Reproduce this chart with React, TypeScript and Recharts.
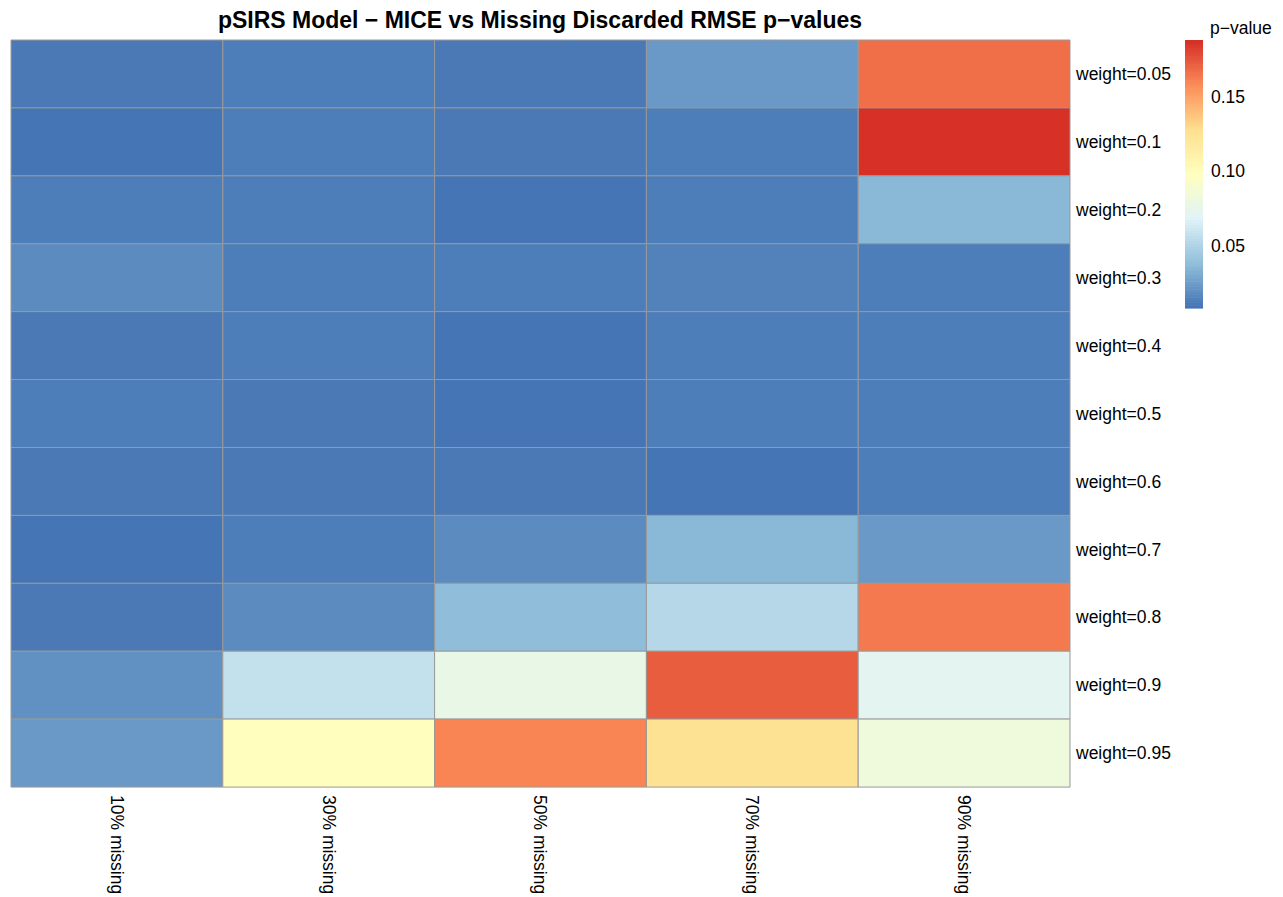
import React from "react";
import { BarChart, Bar, XAxis, YAxis, Cell } from "recharts";

// p-values, one array per column, rows top to bottom
const weights = [
  "weight=0.05", "weight=0.1", "weight=0.2", "weight=0.3", "weight=0.4", "weight=0.5",
  "weight=0.6", "weight=0.7", "weight=0.8", "weight=0.9", "weight=0.95",
];
const columns = ["10% missing", "30% missing", "50% missing", "70% missing", "90% missing"];

const miss10 = [0.011, 0.008, 0.012, 0.018, 0.010, 0.012, 0.010, 0.008, 0.010, 0.020, 0.023];
const miss30 = [0.013, 0.013, 0.013, 0.013, 0.012, 0.010, 0.010, 0.013, 0.018, 0.057, 0.099];
const miss50 = [0.010, 0.010, 0.008, 0.013, 0.008, 0.009, 0.010, 0.018, 0.038, 0.078, 0.160];
const miss70 = [0.023, 0.013, 0.013, 0.015, 0.013, 0.013, 0.008, 0.036, 0.052, 0.173, 0.125];
const miss90 = [0.168, 0.188, 0.036, 0.012, 0.012, 0.012, 0.013, 0.024, 0.164, 0.071, 0.083];

const series = [miss10, miss30, miss50, miss70, miss90];
const legendTicks = [0.05, 0.1, 0.15];

const FONT = "'Liberation Sans', Arial, Helvetica, sans-serif";
const FS = 17.5;
const W = 1283;
const H = 897;

// rev(RdYlBu 7) ramped to 100 colours, like pheatmap's default
const anchors = ["#4575B4", "#91BFDB", "#E0F3F8", "#FFFFBF", "#FEE090", "#FC8D59", "#D73027"];
const toRgb = (h: string) => [1, 3, 5].map((i) => parseInt(h.slice(i, i + 2), 16));
const palette: string[] = [];
for (let i = 0; i < 100; i++) {
  const t = (i / 99) * 6;
  const seg = Math.min(Math.floor(t), 5);
  const f = t - seg;
  const a = toRgb(anchors[seg]);
  const b = toRgb(anchors[seg + 1]);
  const c = a.map((v, k) => Math.round(v + (b[k] - v) * f));
  palette.push(`rgb(${c[0]},${c[1]},${c[2]})`);
}

const all = series.flat();
const vMin = Math.min(...all);
const vMax = Math.max(...all);
const colorFor = (v: number) =>
  palette[Math.min(99, Math.floor(((v - vMin) / (vMax - vMin)) * 100))];

const rows = weights.map((w) => {
  const r: any = { row: w };
  columns.forEach((_, j) => (r[`c${j}`] = 1));
  return r;
});

const ColumnTick = (props: any) => {
  const { x, y, payload } = props;
  return (
    <text
      transform={`translate(${x},${y}) rotate(90)`}
      textAnchor="start"
      fontSize={FS}
      fontFamily={FONT}
      fill="#000"
    >
      <tspan dy="0.35em">{columns[Math.floor(payload.value)]}</tspan>
    </text>
  );
};

const ColorKey = () => {
  const x = 1185;
  const top = 40;
  const h = 268;
  const bw = 18;
  const yOf = (v: number) => top + h - ((v - vMin) / (vMax - vMin)) * h;
  return (
    <g>
      <text x={1210} y={34} fontSize={FS} fontFamily={FONT} fill="#000">p−value</text>
      {palette.map((c, i) => (
        <rect key={i} x={x} y={top + h - ((i + 1) * h) / 100} width={bw} height={h / 100 + 0.6} fill={c} />
      ))}
      {legendTicks.map((t) => (
        <text key={t} x={1211} y={yOf(t)} dy="0.35em" fontSize={FS} fontFamily={FONT} fill="#000">
          {t.toFixed(2)}
        </text>
      ))}
    </g>
  );
};

export default function App() {
  return (
    <div style={{ position: "absolute", left: 0, top: 0, width: W, height: H, background: "#fff" }}>
      <BarChart
        width={W}
        height={H}
        data={rows}
        layout="vertical"
        barCategoryGap={0}
        barGap={0}
        margin={{ top: 40, right: 113, bottom: 10, left: 11 }}
      >
        <XAxis
          type="number"
          domain={[0, 5]}
          ticks={[0.5, 1.5, 2.5, 3.5, 4.5]}
          height={100}
          axisLine={false}
          tickLine={false}
          tickSize={0}
          tickMargin={8}
          tick={<ColumnTick />}
          interval={0}
        />
        <YAxis
          type="category"
          dataKey="row"
          orientation="right"
          width={100}
          axisLine={false}
          tickLine={false}
          tickSize={0}
          tickMargin={6}
          interval={0}
          tick={{ fontSize: FS, fontFamily: FONT, fill: "#000", textAnchor: "start" }}
        />
        {columns.map((_, j) => (
          <Bar
            key={j}
            dataKey={`c${j}`}
            stackId="cells"
            stroke="#999999"
            strokeWidth={1}
            isAnimationActive={false}
          >
            {series[j].map((v, i) => (
              <Cell key={i} fill={colorFor(v)} />
            ))}
          </Bar>
        ))}
      </BarChart>
      <svg width={W} height={H} style={{ position: "absolute", left: 0, top: 0, pointerEvents: "none" }}>
        <text x={540} y={28} textAnchor="middle" fontSize={23} fontWeight="bold" fontFamily={FONT} fill="#000">
          pSIRS Model − MICE vs Missing Discarded RMSE p−values
        </text>
        <ColorKey />
      </svg>
    </div>
  );
}
